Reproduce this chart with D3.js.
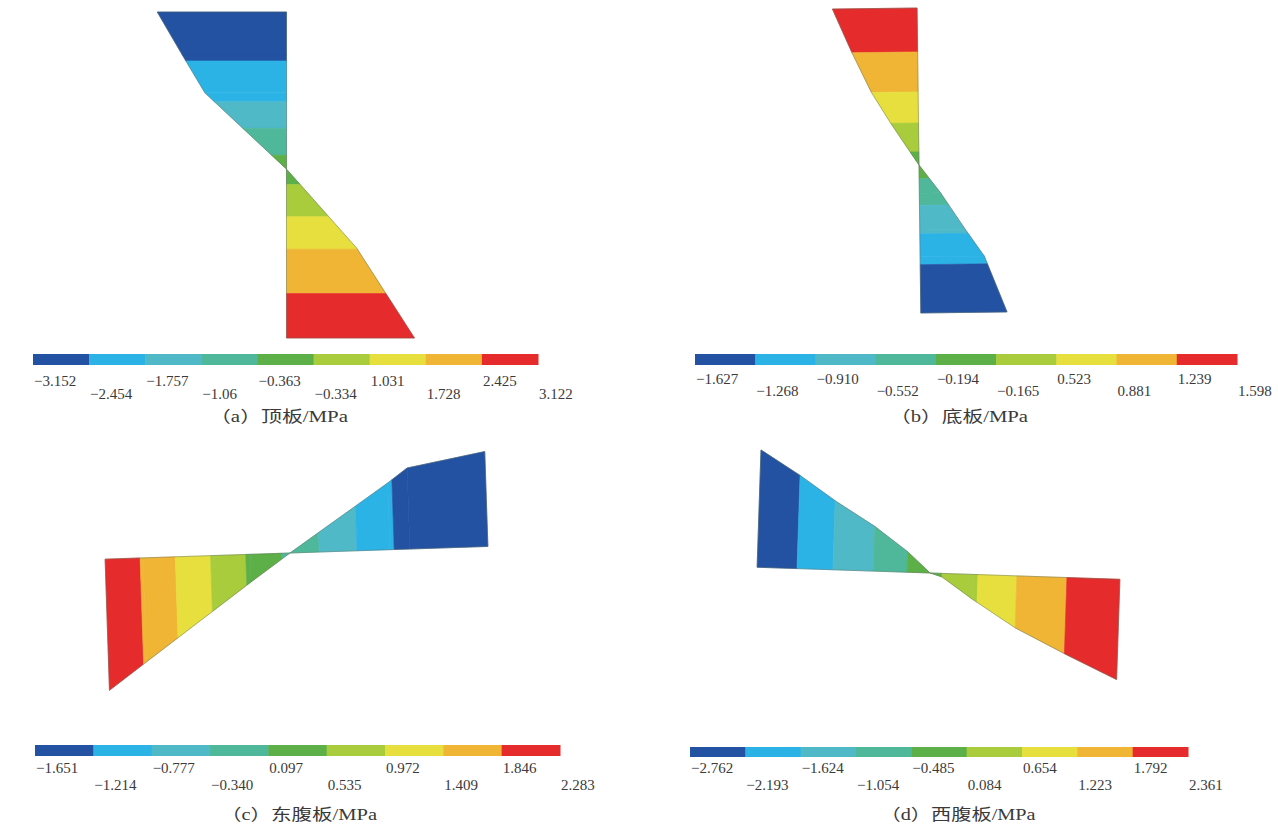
<!DOCTYPE html>
<html>
<head>
<meta charset="utf-8">
<script src="https://cdn.jsdelivr.net/npm/d3@7"></script>
<style>
  html, body { margin: 0; padding: 0; background: #fff; }
  svg { display: block; }
  text { font-family: "Liberation Serif", "Times New Roman", "Noto Sans CJK SC", serif; fill: #3a3a3a; }
  .cap { font-family: "Liberation Serif", "Noto Sans CJK SC", serif; }
</style>
</head>
<body>
<svg id="chart" width="1278" height="827"></svg>
<script>
// Nine contour bands, low (blue) to high (red), shared by all four plates
const bandColors = ["#2352a2", "#2cb3e6", "#4fb9c8", "#4fb89a", "#5daf47", "#a8cc3c", "#e6df3e", "#f0b535", "#e52b2b"];

// (a) 顶板 — band limits, legend labels, stress profile along the section
const topLevels = [-3.152, -2.454, -1.757, -1.06, -0.363, 0.334, 1.031, 1.728, 2.425, 3.122];
const topTicks = ["−3.152", "−2.454", "−1.757", "−1.06", "−0.363", "−0.334", "1.031", "1.728", "2.425", "3.122"];
const topPos = [0, 0.132, 0.248, 0.482, 0.724, 1];
const topStress = [-3.152, -2.54, -1.99, 0, 1.71, 3.122];

// (b) 底板
const botLevels = [-1.627, -1.268, -0.910, -0.552, -0.194, 0.165, 0.523, 0.881, 1.239, 1.598];
const botTicks = ["−1.627", "−1.268", "−0.910", "−0.552", "−0.194", "−0.165", "0.523", "0.881", "1.239", "1.598"];
const botPos = [0, 0.144, 0.275, 0.377, 0.515, 0.607, 0.728, 0.816, 1];
const botStress = [1.598, 1.239, 0.881, 0.523, 0, -0.40, -0.86, -1.21, -1.627];

// (c) 东腹板
const eastLevels = [-1.651, -1.214, -0.777, -0.340, 0.097, 0.535, 0.972, 1.409, 1.846, 2.283];
const eastTicks = ["−1.651", "−1.214", "−0.777", "−0.340", "0.097", "0.535", "0.972", "1.409", "1.846", "2.283"];
const eastPos = [0, 0.099, 0.379, 0.483, 0.744, 0.796, 1];
const eastStress = [2.283, 1.81, 0.48, 0, -1.16, -1.41, -1.651];

// (d) 西腹板
const westLevels = [-2.762, -2.193, -1.624, -1.054, -0.485, 0.084, 0.654, 1.223, 1.792, 2.361];
const westTicks = ["−2.762", "−2.193", "−1.624", "−1.054", "−0.485", "0.084", "0.654", "1.223", "1.792", "2.361"];
const westPos = [0, 0.110, 0.209, 0.320, 0.413, 0.477, 0.510, 0.595, 0.716, 0.854, 1];
const westStress = [-2.762, -2.193, -1.624, -1.054, -0.485, 0, 0.084, 0.58, 1.223, 1.792, 2.361];

const titles = ["（a）顶板/MPa", "（b）底板/MPa", "（c）东腹板/MPa", "（d）西腹板/MPa"];

// Placement of each plate diagram and its colour legend
const panels = [
  { levels: topLevels, ticks: topTicks, pos: topPos, stress: topStress, title: titles[0],
    orient: "v", posRange: [12, 338], zero: 286.5, unit: 41, dir: 1, tilt: 0,
    bar: { x0: 33, x1: 538, y: 354, h: 11 }, rows: [386, 399], cap: { x: 279, y: 422, w: 138 } },
  { levels: botLevels, ticks: botTicks, pos: botPos, stress: botStress, title: titles[1],
    orient: "v", posRange: [8, 313], zero: 919, unit: 53, dir: -1, tilt: -0.7,
    bar: { x0: 695, x1: 1237, y: 354, h: 11 }, rows: [384, 396], cap: { x: 959, y: 422, w: 138 } },
  { levels: eastLevels, ticks: eastTicks, pos: eastPos, stress: eastStress, title: titles[2],
    orient: "h", posRange: [105, 488], zero: 553, unit: 57.5, dir: 1, tilt: -1.9,
    bar: { x0: 35, x1: 560, y: 745, h: 11 }, rows: [773, 790], cap: { x: 299, y: 820, w: 156 } },
  { levels: westLevels, ticks: westTicks, pos: westPos, stress: westStress, title: titles[3],
    orient: "h", posRange: [757, 1120], zero: 573, unit: 42.5, dir: 1, tilt: 1.9,
    bar: { x0: 690, x1: 1188, y: 747, h: 10 }, rows: [773, 790], cap: { x: 958, y: 820, w: 155 } }
];

const svg = d3.select("#chart");

// Split the profile wherever the stress crosses a band limit or zero,
// so every piece lies inside a single colour band.
function splitProfile(pos, stress, cuts) {
  const pieces = [];
  for (let i = 0; i < pos.length - 1; i++) {
    const p0 = pos[i], p1 = pos[i + 1], s0 = stress[i], s1 = stress[i + 1];
    const pts = [{ p: p0, s: s0 }];
    const inner = [];
    cuts.forEach(c => {
      if ((c - s0) * (c - s1) < 0) {
        const f = (c - s0) / (s1 - s0);
        inner.push({ p: p0 + f * (p1 - p0), s: c, f });
      }
    });
    inner.sort((a, b) => a.f - b.f).forEach(d => pts.push({ p: d.p, s: d.s }));
    pts.push({ p: p1, s: s1 });
    for (let k = 0; k < pts.length - 1; k++) {
      if (pts[k + 1].p - pts[k].p > 1e-9) pieces.push([pts[k], pts[k + 1]]);
    }
  }
  return pieces;
}

panels.forEach(cfg => {
  const P = d3.scaleLinear().domain([0, 1]).range(cfg.posRange);
  const S = d3.scaleLinear().domain([0, 1]).range([cfg.zero, cfg.zero + cfg.dir * cfg.unit]);
  const band = d3.scaleThreshold().domain(cfg.levels.slice(1, -1)).range(bandColors);

  // pivot for the slight tilt of the plotted plate: the zero-stress point
  const zi = cfg.stress.indexOf(0);
  const pivot = cfg.orient === "v" ? [S(0), P(cfg.pos[zi])] : [P(cfg.pos[zi]), S(0)];
  const g = svg.append("g").attr("transform", `rotate(${cfg.tilt},${pivot[0]},${pivot[1]})`);

  const area = cfg.orient === "v"
    ? d3.area().y(d => P(d.p)).x0(S(0)).x1(d => S(d.s))
    : d3.area().x(d => P(d.p)).y0(S(0)).y1(d => S(d.s));

  const cuts = cfg.levels.slice(1, -1).concat([0]);
  const pieces = splitProfile(cfg.pos, cfg.stress, cuts);
  g.selectAll("path.band").data(pieces).join("path")
    .attr("class", "band")
    .attr("d", area)
    .attr("fill", d => band((d[0].s + d[1].s) / 2))
    .attr("stroke", d => band((d[0].s + d[1].s) / 2))
    .attr("stroke-width", 0.6);

  // thin outline of the stress profile
  const profile = cfg.pos.map((p, i) => ({ p, s: cfg.stress[i] }));
  g.append("path")
    .datum(profile)
    .attr("d", area)
    .attr("fill", "none")
    .attr("stroke", "#5a6a5a")
    .attr("stroke-opacity", 0.55)
    .attr("stroke-width", 0.8);

  // colour legend
  const b = cfg.bar;
  const L = d3.scaleLinear().domain([0, 9]).range([b.x0, b.x1]);
  svg.append("g").selectAll("rect").data(bandColors).join("rect")
    .attr("x", (d, i) => L(i))
    .attr("y", b.y)
    .attr("width", (d, i) => L(i + 1) - L(i) + 0.5)
    .attr("height", b.h)
    .attr("fill", d => d);

  svg.append("g").selectAll("text").data(cfg.ticks).join("text")
    .attr("x", (d, i) => L(i) + 1)
    .attr("y", (d, i) => cfg.rows[i % 2])
    .attr("font-size", 15)
    .text(d => d);

  svg.append("text")
    .attr("class", "cap")
    .attr("x", cfg.cap.x - cfg.cap.w / 2)
    .attr("y", cfg.cap.y)
    .attr("font-size", 16)
    .attr("textLength", cfg.cap.w)
    .attr("lengthAdjust", "spacingAndGlyphs")
    .text(cfg.title);
});
</script>
</body>
</html>
